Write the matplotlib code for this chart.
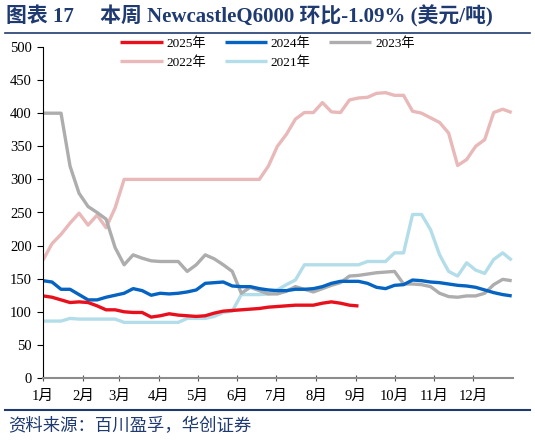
import matplotlib
matplotlib.use("Agg")
import matplotlib.pyplot as plt
from matplotlib.lines import Line2D

plt.rcParams['font.family'] = ['Liberation Serif', 'Noto Sans CJK SC']

# dados semanais (53 semanas), valores em USD/t
semanas = list(range(53))
dias = [s * 7 for s in semanas]

v2025 = [124, 122, 118, 114, 115, 114, 109, 103, 103, 100, 99, 99, 92, 94, 97, 95,
         94, 93, 94, 98, 101, 102, 103, 104, 105, 107, 108, 109, 110, 110, 110, 113,
         115, 113, 110, 108.8]
v2024 = [147, 145, 134, 134, 126, 118, 118, 122, 125, 128, 135, 132, 125, 128, 127, 128,
         130, 133, 143, 144, 145, 139, 138, 138, 135, 133, 132, 132, 134, 134, 135, 138,
         143, 146, 146, 146, 143, 137, 135, 140, 141, 148, 147, 145, 144, 142, 140, 139,
         137, 133, 129, 126, 124]
v2023 = [400, 400, 400, 320, 279, 259, 250, 240, 197, 171, 186, 181, 177, 176, 176, 176,
         161, 171, 186, 180, 171, 161, 128, 137, 132, 127, 127, 131, 138, 134, 130, 135,
         140, 144, 154, 155, 157, 159, 160, 161, 142, 142, 141, 138, 128, 123, 122, 124,
         124, 128, 141, 149, 147]
v2022 = [178, 203, 217, 234, 249, 231, 246, 227, 257, 300, 300, 300, 300, 300, 300, 300,
         300, 300, 300, 300, 300, 300, 300, 300, 300, 320, 350, 368, 391, 401, 401, 416,
         402, 401, 420, 423, 424, 430, 431, 427, 427, 403, 400, 393, 386, 370, 321, 330,
         350, 360, 401, 406, 401]
v2021 = [86, 86, 86, 90, 89, 89, 89, 89, 89, 84, 84, 84, 84, 84, 84, 84,
         90, 90, 90, 93, 99, 101, 126, 126, 126, 127, 133, 141, 148, 171, 171, 171,
         171, 171, 171, 171, 176, 176, 176, 189, 189, 247, 247, 224, 186, 161, 154, 174,
         163, 158, 179, 189, 178]

meses_pos = [0, 31, 59, 90, 120, 151, 181, 212, 243, 273, 304, 334]
meses_txt = [f"{m}月" for m in range(1, 13)]

W, H = 535, 440
fig = plt.figure(figsize=(W / 100, H / 100), dpi=100)
ax = fig.add_axes([43 / W, (H - 378) / H, (513 - 43) / W, (378 - 47) / H])

series = [
    ("2021年", v2021, "#B3DDE8"),
    ("2022年", v2022, "#E8B9B8"),
    ("2023年", v2023, "#ADADAD"),
    ("2024年", v2024, "#0563C1"),
    ("2025年", v2025, "#E8101C"),
]
linhas = {}
for nome, vals, cor in series:
    l, = ax.plot(dias[:len(vals)], vals, color=cor, lw=2.4, solid_capstyle='butt')
    linhas[nome] = l

ax.set_xlim(0, 365)
ax.set_ylim(0, 500)
ax.set_yticks(range(0, 501, 50))
ax.set_xticks(meses_pos)
ax.set_xticklabels(meses_txt)
ax.tick_params(axis='y', direction='out', length=4, width=0.8, labelsize=10.5, pad=4)
ax.tick_params(axis='x', direction='inout', length=5, width=0.8, labelsize=10.5, pad=6,
               color='#555555')
ax.spines['top'].set_visible(False)
ax.spines['right'].set_visible(False)
ax.spines['left'].set_linewidth(0.8)
ax.spines['bottom'].set_color('#8C8C8C')
ax.spines['bottom'].set_linewidth(1.5)

ordem = ["2025年", "2022年", "2024年", "2021年", "2023年"]
ax.legend([linhas[n] for n in ordem], ordem, ncol=3, loc='upper left',
          bbox_to_anchor=(72 / 470, 1.045), frameon=False, fontsize=9.5,
          handlelength=3.2, handletextpad=0.3, columnspacing=1.4,
          labelspacing=0.45, borderaxespad=0)

azul = "#1F3A70"
fig.text(6 / W, 1 - 16 / H, "图表 17     本周 NewcastleQ6000 环比-1.09% (美元/吨)",
         fontsize=15, fontweight='bold', color=azul, va='center', ha='left')
fig.add_artist(Line2D([5 / W, 530 / W], [1 - 33 / H, 1 - 33 / H],
                      transform=fig.transFigure, color=azul, lw=1.2))
fig.add_artist(Line2D([5 / W, 530 / W], [1 - 410 / H, 1 - 410 / H],
                      transform=fig.transFigure, color=azul, lw=1.5))
fig.text(8 / W, 1 - 427 / H, "资料来源：百川盈孚，华创证券", fontsize=12.5,
         style='italic', color=azul, va='center', ha='left')

fig.savefig("out.png", dpi=100)
